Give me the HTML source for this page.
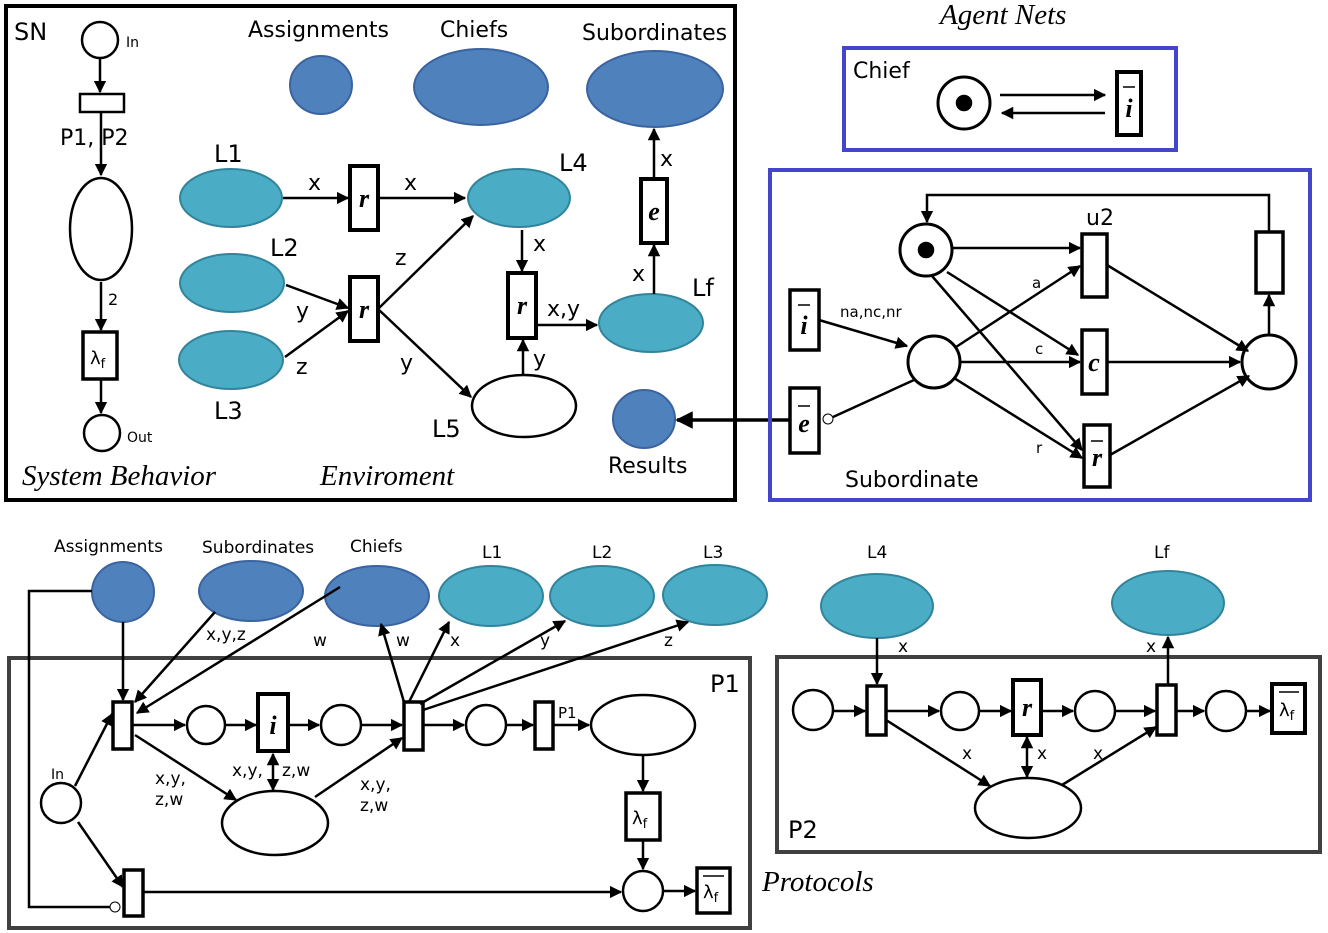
<!DOCTYPE html>
<html><head><meta charset="utf-8"><style>
html,body{margin:0;padding:0;background:#fff}
svg{display:block}
text{font-family:"DejaVu Sans","Liberation Sans",sans-serif;fill:#000}
.it{font-family:"Liberation Serif",serif;font-style:italic}
.bi{font-family:"Liberation Serif",serif;font-style:italic;font-weight:bold}
</style></head><body>
<svg width="1328" height="933" viewBox="0 0 1328 933" xmlns="http://www.w3.org/2000/svg">
<defs>
<marker id="a" viewBox="0 0 10 10" refX="9" refY="5" markerWidth="5" markerHeight="5" orient="auto-start-reverse"><path d="M0,0L10,5L0,10z" fill="#000"/></marker>
</defs>
<g stroke="#000" stroke-width="2.5" fill="none">
<rect x="6" y="6" width="729" height="494" stroke-width="4"/>
<circle cx="100" cy="40" r="18"/>
<line x1="100" y1="58" x2="100" y2="92" marker-end="url(#a)"/>
<rect x="80" y="94" width="44" height="18"/>
<line x1="101" y1="112" x2="101" y2="175" marker-end="url(#a)"/>
<ellipse cx="101" cy="229" rx="31" ry="51"/>
<line x1="101" y1="282" x2="101" y2="330" marker-end="url(#a)"/>
<rect x="83" y="332" width="34" height="47" stroke-width="3.5"/>
<line x1="101" y1="379" x2="101" y2="413" marker-end="url(#a)"/>
<circle cx="102" cy="433" r="18"/>

<ellipse cx="231" cy="198" rx="51" ry="29" fill="#4bacc6" stroke="#31849b" stroke-width="2"/>
<ellipse cx="232" cy="283" rx="52" ry="29" fill="#4bacc6" stroke="#31849b" stroke-width="2"/>
<ellipse cx="231" cy="360" rx="52" ry="29" fill="#4bacc6" stroke="#31849b" stroke-width="2"/>
<ellipse cx="519" cy="198" rx="51" ry="29" fill="#4bacc6" stroke="#31849b" stroke-width="2"/>
<ellipse cx="651" cy="323" rx="52" ry="29" fill="#4bacc6" stroke="#31849b" stroke-width="2"/>
<ellipse cx="321" cy="85" rx="31" ry="29" fill="#4f81bd" stroke="#3a63a0" stroke-width="2"/>
<ellipse cx="481" cy="87" rx="67" ry="38" fill="#4f81bd" stroke="#3a63a0" stroke-width="2"/>
<ellipse cx="655" cy="89" rx="68" ry="38" fill="#4f81bd" stroke="#3a63a0" stroke-width="2"/>
<ellipse cx="644" cy="419" rx="31" ry="29" fill="#4f81bd" stroke="#3a63a0" stroke-width="2"/>
<ellipse cx="524" cy="406" rx="52" ry="31"/>

<rect x="350" y="166" width="28" height="64" stroke-width="4"/>
<rect x="350" y="277" width="28" height="64" stroke-width="4"/>
<rect x="508" y="273" width="28" height="65" stroke-width="4"/>
<rect x="641" y="179" width="26" height="64" stroke-width="4"/>
<line x1="283" y1="198" x2="348" y2="198" marker-end="url(#a)"/>
<line x1="378" y1="198" x2="465" y2="198" marker-end="url(#a)"/>
<line x1="286" y1="285" x2="348" y2="308" marker-end="url(#a)"/>
<line x1="285" y1="357" x2="348" y2="311" marker-end="url(#a)"/>
<line x1="378" y1="309" x2="473" y2="216" marker-end="url(#a)"/>
<line x1="378" y1="309" x2="471" y2="397" marker-end="url(#a)"/>
<line x1="522" y1="230" x2="522" y2="271" marker-end="url(#a)"/>
<line x1="523" y1="375" x2="523" y2="340" marker-end="url(#a)"/>
<line x1="536" y1="325" x2="597" y2="325" marker-end="url(#a)"/>
<line x1="654" y1="294" x2="654" y2="245" marker-end="url(#a)"/>
<line x1="654" y1="179" x2="654" y2="129" marker-end="url(#a)"/>
<line x1="790" y1="420" x2="677" y2="420" stroke-width="3.5" marker-end="url(#a)"/>

<rect x="844" y="48" width="332" height="102" stroke="#4444cc" stroke-width="4"/>
<circle cx="964" cy="103" r="26" stroke-width="3"/>
<circle cx="964" cy="103" r="7" fill="#000"/>
<line x1="1000" y1="95" x2="1105" y2="95" marker-end="url(#a)"/>
<line x1="1105" y1="113" x2="1002" y2="113" marker-end="url(#a)"/>
<rect x="1117" y="72" width="24" height="63" stroke-width="4"/>

<rect x="770" y="170" width="540" height="330" stroke="#4444cc" stroke-width="4"/>
<circle cx="926" cy="250" r="26" stroke-width="3"/>
<circle cx="926" cy="250" r="7" fill="#000"/>
<polyline points="1269,232 1269,195 927,195 927,222" marker-end="url(#a)"/>
<rect x="1082" y="234" width="25" height="63" stroke-width="3.5"/>
<rect x="1256" y="232" width="27" height="61" stroke-width="3.5"/>
<circle cx="1269" cy="362" r="27" stroke-width="3"/>
<line x1="1269" y1="335" x2="1269" y2="295" marker-end="url(#a)"/>
<circle cx="934" cy="362" r="26" stroke-width="3"/>
<rect x="1082" y="330" width="25" height="64" stroke-width="3.5"/>
<rect x="1084" y="425" width="26" height="62" stroke-width="3.5"/>
<rect x="790" y="290" width="29" height="60" stroke-width="3.5"/>
<rect x="790" y="388" width="29" height="65" stroke-width="3.5"/>
<circle cx="828" cy="419" r="5" stroke-width="1"/>
<line x1="952" y1="248" x2="1080" y2="248" marker-end="url(#a)"/>
<line x1="947" y1="272" x2="1078" y2="355" marker-end="url(#a)"/>
<line x1="932" y1="276" x2="1082" y2="450" marker-end="url(#a)"/>
<line x1="956" y1="347" x2="1080" y2="266" marker-end="url(#a)"/>
<line x1="960" y1="362" x2="1080" y2="362" marker-end="url(#a)"/>
<line x1="954" y1="378" x2="1082" y2="458" marker-end="url(#a)"/>
<line x1="819" y1="320" x2="907" y2="346" marker-end="url(#a)"/>
<line x1="833" y1="417" x2="914" y2="380"/>
<line x1="1107" y1="265" x2="1248" y2="351" marker-end="url(#a)"/>
<line x1="1107" y1="362" x2="1240" y2="362" marker-end="url(#a)"/>
<line x1="1110" y1="455" x2="1249" y2="376" marker-end="url(#a)"/>

<ellipse cx="123" cy="592" rx="31" ry="30" fill="#4f81bd" stroke="#3a63a0" stroke-width="2"/>
<ellipse cx="251" cy="591" rx="52" ry="30" fill="#4f81bd" stroke="#3a63a0" stroke-width="2"/>
<ellipse cx="377" cy="596" rx="52" ry="30" fill="#4f81bd" stroke="#3a63a0" stroke-width="2"/>
<ellipse cx="491" cy="596" rx="52" ry="30" fill="#4bacc6" stroke="#31849b" stroke-width="2"/>
<ellipse cx="602" cy="596" rx="52" ry="30" fill="#4bacc6" stroke="#31849b" stroke-width="2"/>
<ellipse cx="715" cy="595" rx="52" ry="30" fill="#4bacc6" stroke="#31849b" stroke-width="2"/>
<ellipse cx="877" cy="606" rx="56" ry="32" fill="#4bacc6" stroke="#31849b" stroke-width="2"/>
<ellipse cx="1168" cy="603" rx="56" ry="32" fill="#4bacc6" stroke="#31849b" stroke-width="2"/>

<rect x="9" y="658" width="741" height="270" stroke="#404040" stroke-width="4"/>
<rect x="113" y="702" width="19" height="47" stroke-width="3.5"/>
<rect x="404" y="702" width="19" height="48" stroke-width="3.5"/>
<rect x="535" y="702" width="18" height="47" stroke-width="3.5"/>
<rect x="258" y="694" width="30" height="57" stroke-width="4"/>
<rect x="626" y="793" width="34" height="47" stroke-width="3.5"/>
<rect x="697" y="868" width="33" height="45" stroke-width="3.5"/>
<rect x="124" y="870" width="19" height="46" stroke-width="3.5"/>
<circle cx="206" cy="725" r="19"/>
<circle cx="341" cy="725" r="20"/>
<circle cx="486" cy="725" r="20"/>
<ellipse cx="643" cy="725" rx="52" ry="30"/>
<circle cx="643" cy="891" r="20"/>
<circle cx="61" cy="803" r="20"/>
<ellipse cx="275" cy="823" rx="53" ry="32"/>
<line x1="123" y1="622" x2="123" y2="700" marker-end="url(#a)"/>
<line x1="215" y1="612" x2="135" y2="702" marker-end="url(#a)"/>
<line x1="340" y1="587" x2="137" y2="713" marker-end="url(#a)"/>
<line x1="404" y1="702" x2="381" y2="624" marker-end="url(#a)"/>
<line x1="409" y1="702" x2="449" y2="622" marker-end="url(#a)"/>
<line x1="420" y1="704" x2="565" y2="621" marker-end="url(#a)"/>
<line x1="423" y1="710" x2="688" y2="622" marker-end="url(#a)"/>
<line x1="132" y1="725" x2="185" y2="725" marker-end="url(#a)"/>
<line x1="225" y1="725" x2="256" y2="725" marker-end="url(#a)"/>
<line x1="288" y1="725" x2="319" y2="725" marker-end="url(#a)"/>
<line x1="361" y1="725" x2="402" y2="725" marker-end="url(#a)"/>
<line x1="423" y1="725" x2="464" y2="725" marker-end="url(#a)"/>
<line x1="506" y1="725" x2="533" y2="725" marker-end="url(#a)"/>
<line x1="553" y1="725" x2="589" y2="725" marker-end="url(#a)"/>
<line x1="643" y1="755" x2="643" y2="791" marker-end="url(#a)"/>
<line x1="643" y1="840" x2="643" y2="869" marker-end="url(#a)"/>
<line x1="663" y1="891" x2="695" y2="891" marker-end="url(#a)"/>
<line x1="75" y1="786" x2="112" y2="714" marker-end="url(#a)"/>
<line x1="78" y1="822" x2="123" y2="887" marker-end="url(#a)"/>
<line x1="143" y1="892" x2="621" y2="892" marker-end="url(#a)"/>
<polyline points="92,591 29,591 29,907 110,907"/>
<circle cx="115" cy="907" r="5" stroke-width="1"/>
<line x1="135" y1="735" x2="236" y2="800" marker-end="url(#a)"/>
<line x1="273" y1="754" x2="273" y2="790" marker-start="url(#a)" marker-end="url(#a)"/>
<line x1="315" y1="797" x2="402" y2="738" marker-end="url(#a)"/>

<rect x="777" y="657" width="543" height="195" stroke="#404040" stroke-width="4"/>
<circle cx="813" cy="710" r="20"/>
<rect x="867" y="686" width="19" height="49" stroke-width="3.5"/>
<circle cx="960" cy="711" r="19"/>
<rect x="1013" y="680" width="28" height="55" stroke-width="4"/>
<circle cx="1095" cy="711" r="20"/>
<rect x="1157" y="685" width="19" height="50" stroke-width="3.5"/>
<circle cx="1226" cy="711" r="20"/>
<rect x="1272" y="684" width="33" height="49" stroke-width="4"/>
<ellipse cx="1028" cy="808" rx="53" ry="30"/>
<line x1="833" y1="711" x2="865" y2="711" marker-end="url(#a)"/>
<line x1="886" y1="711" x2="939" y2="711" marker-end="url(#a)"/>
<line x1="979" y1="711" x2="1011" y2="711" marker-end="url(#a)"/>
<line x1="1041" y1="711" x2="1073" y2="711" marker-end="url(#a)"/>
<line x1="1115" y1="711" x2="1155" y2="711" marker-end="url(#a)"/>
<line x1="1176" y1="711" x2="1204" y2="711" marker-end="url(#a)"/>
<line x1="1246" y1="711" x2="1270" y2="711" marker-end="url(#a)"/>
<line x1="877" y1="638" x2="877" y2="684" marker-end="url(#a)"/>
<line x1="1168" y1="685" x2="1168" y2="637" marker-end="url(#a)"/>
<line x1="886" y1="720" x2="990" y2="786" marker-end="url(#a)"/>
<line x1="1027" y1="737" x2="1027" y2="777" marker-start="url(#a)" marker-end="url(#a)"/>
<line x1="1062" y1="785" x2="1156" y2="727" marker-end="url(#a)"/>
</g>

<g font-size="22">
<text x="14" y="40" font-size="24">SN</text>
<text x="126" y="47" font-size="14">In</text>
<text x="60" y="145">P1, P2</text>
<text x="108" y="305" font-size="16">2</text>
<text x="127" y="442" font-size="14">Out</text>
<text x="248" y="37">Assignments</text>
<text x="440" y="37">Chiefs</text>
<text x="582" y="40">Subordinates</text>
<text x="214" y="162" font-size="24">L1</text>
<text x="270" y="256" font-size="24">L2</text>
<text x="214" y="419" font-size="24">L3</text>
<text x="559" y="171" font-size="24">L4</text>
<text x="432" y="437" font-size="24">L5</text>
<text x="692" y="296" font-size="24">Lf</text>
<text x="308" y="190">x</text>
<text x="404" y="190">x</text>
<text x="296" y="318">y</text>
<text x="296" y="374">z</text>
<text x="395" y="265">z</text>
<text x="400" y="370">y</text>
<text x="533" y="251">x</text>
<text x="533" y="366">y</text>
<text x="547" y="316">x,y</text>
<text x="632" y="281">x</text>
<text x="660" y="166">x</text>
<text x="608" y="473">Results</text>
<text x="22" y="485" class="it" font-size="29">System Behavior</text>
<text x="320" y="485" class="it" font-size="29">Enviroment</text>
<text x="940" y="24" class="it" font-size="29">Agent Nets</text>
<text x="853" y="78">Chief</text>
<text x="1086" y="225">u2</text>
<text x="845" y="487">Subordinate</text>
<text x="840" y="317" font-size="15">na,nc,nr</text>
<text x="1032" y="288" font-size="15">a</text>
<text x="1035" y="354" font-size="15">c</text>
<text x="1036" y="453" font-size="15">r</text>
<text x="762" y="891" class="it" font-size="29">Protocols</text>
<text x="710" y="692" font-size="24">P1</text>
<text x="788" y="838" font-size="24">P2</text>
</g>
<g class="bi" font-size="26" text-anchor="middle">
<text x="364" y="207" class="bi">r</text>
<text x="364" y="318" class="bi">r</text>
<text x="522" y="314" class="bi">r</text>
<text x="654" y="220" class="bi">e</text>
<text x="1129" y="117" class="bi">i</text>
<text x="1094" y="371" class="bi">c</text>
<text x="1097" y="466" class="bi">r</text>
<text x="804" y="334" class="bi">i</text>
<text x="804" y="432" class="bi">e</text>
<text x="273" y="734" class="bi">i</text>
<text x="1027" y="716" class="bi">r</text>
</g>
<g stroke="#000" stroke-width="1.5">
<line x1="1123" y1="87" x2="1135" y2="87"/>
<line x1="1091" y1="441" x2="1103" y2="441"/>
<line x1="798" y1="305" x2="810" y2="305"/>
<line x1="798" y1="406" x2="810" y2="406"/>
<line x1="703" y1="876" x2="724" y2="876"/>
<line x1="1279" y1="692" x2="1299" y2="692"/>
</g>
<g>
<text x="90" y="364" style="font-family:'DejaVu Sans',sans-serif;font-size:18px">λ<tspan font-size="13" dy="4">f</tspan></text>
<text x="632" y="824" style="font-family:'DejaVu Sans',sans-serif;font-size:18px">λ<tspan font-size="13" dy="4">f</tspan></text>
<text x="703" y="898" style="font-family:'DejaVu Sans',sans-serif;font-size:18px">λ<tspan font-size="13" dy="4">f</tspan></text>
<text x="1279" y="716" style="font-family:'DejaVu Sans',sans-serif;font-size:18px">λ<tspan font-size="13" dy="4">f</tspan></text>
</g>
<g font-size="17">
<text x="54" y="552">Assignments</text>
<text x="202" y="553">Subordinates</text>
<text x="350" y="552">Chiefs</text>
<text x="482" y="558">L1</text>
<text x="592" y="558">L2</text>
<text x="703" y="558">L3</text>
<text x="867" y="558">L4</text>
<text x="1154" y="558">Lf</text>
<text x="206" y="640">x,y,z</text>
<text x="313" y="646">w</text>
<text x="396" y="646">w</text>
<text x="450" y="646">x</text>
<text x="540" y="646">y</text>
<text x="664" y="646">z</text>
<text x="558" y="718" font-size="15">P1</text>
<text x="51" y="779" font-size="14">In</text>
<text x="155" y="784">x,y,</text>
<text x="155" y="805">z,w</text>
<text x="232" y="776">x,y,</text>
<text x="282" y="776">z,w</text>
<text x="360" y="790">x,y,</text>
<text x="360" y="811">z,w</text>
<text x="898" y="652">x</text>
<text x="1146" y="652">x</text>
<text x="962" y="759">x</text>
<text x="1037" y="759">x</text>
<text x="1093" y="759">x</text>
</g>
</svg>
</body></html>
